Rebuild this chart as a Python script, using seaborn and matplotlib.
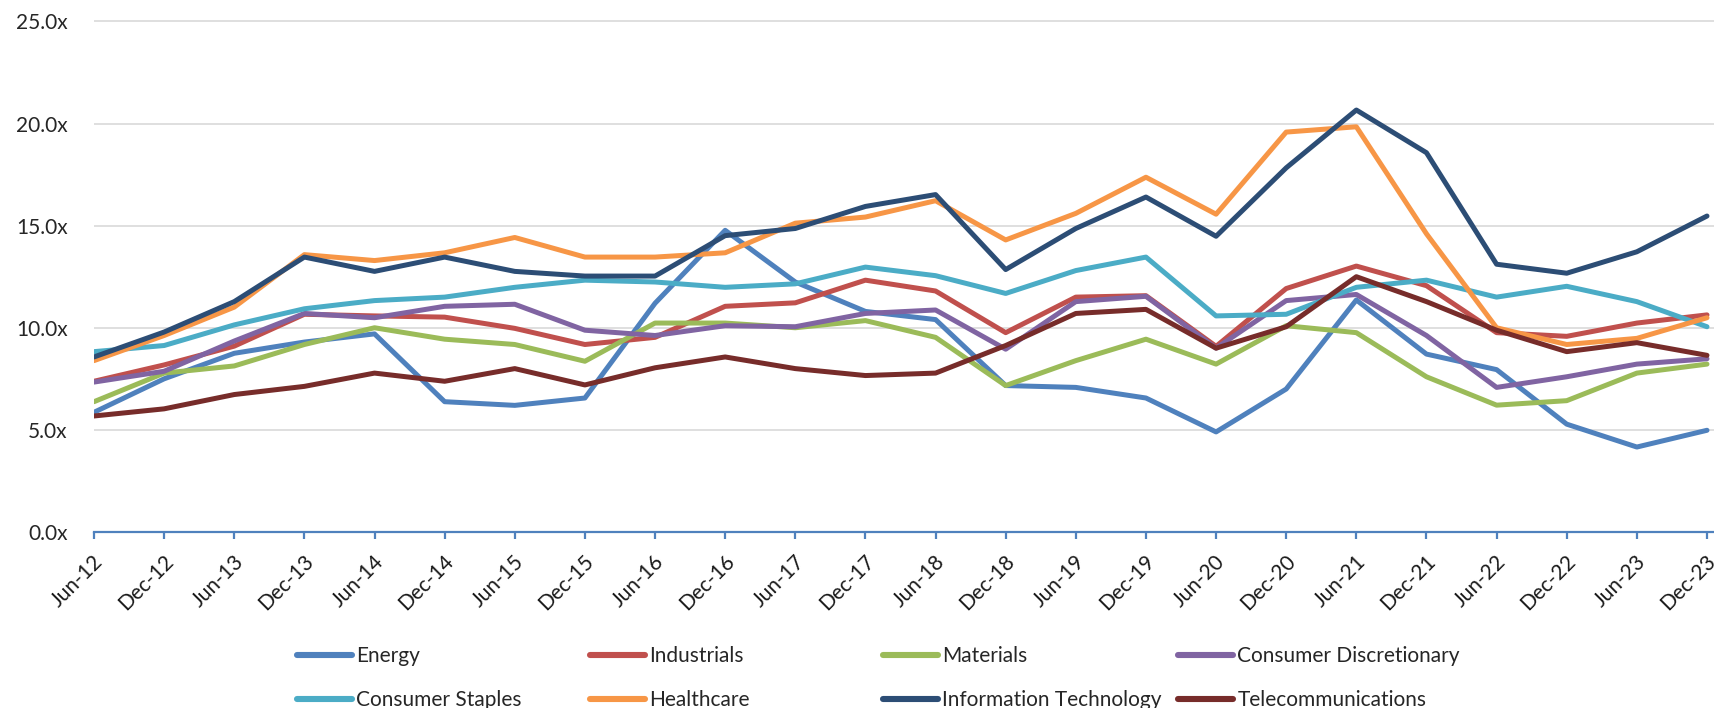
import numpy as np
import pandas as pd
import matplotlib
matplotlib.use("Agg")
import matplotlib.pyplot as plt
import matplotlib.transforms as mtransforms
import seaborn as sns

dates = ["Jun-12", "Dec-12", "Jun-13", "Dec-13", "Jun-14", "Dec-14", "Jun-15", "Dec-15",
         "Jun-16", "Dec-16", "Jun-17", "Dec-17", "Jun-18", "Dec-18", "Jun-19", "Dec-19",
         "Jun-20", "Dec-20", "Jun-21", "Dec-21", "Jun-22", "Dec-22", "Jun-23", "Dec-23"]

energy = [5.86, 7.5, 8.75, 9.3, 9.7, 6.38, 6.2, 6.56, 11.2, 14.77, 12.24, 10.8,
          10.4, 7.17, 7.08, 6.56, 4.9, 7.0, 11.36, 8.71, 7.95, 5.28, 4.16, 4.98]
industrials = [7.38, 8.18, 9.1, 10.66, 10.58, 10.52, 9.97, 9.18, 9.53, 11.05, 11.22, 12.33,
               11.8, 9.76, 11.5, 11.57, 9.09, 11.92, 13.02, 12.06, 9.76, 9.58, 10.23, 10.63]
materials = [6.38, 7.78, 8.13, 9.18, 10.0, 9.44, 9.18, 8.36, 10.23, 10.23, 10.0, 10.35,
             9.53, 7.17, 8.39, 9.44, 8.22, 10.1, 9.76, 7.6, 6.21, 6.43, 7.78, 8.22]
cons_disc = [7.34, 7.87, 9.35, 10.7, 10.49, 11.05, 11.15, 9.88, 9.62, 10.1, 10.05, 10.7,
             10.87, 8.95, 11.28, 11.54, 9.0, 11.33, 11.63, 9.62, 7.08, 7.6, 8.22, 8.48]
cons_staples = [8.83, 9.13, 10.14, 10.93, 11.33, 11.5, 11.98, 12.33, 12.24, 11.98, 12.15, 12.97,
                12.55, 11.68, 12.8, 13.46, 10.58, 10.66, 11.98, 12.33, 11.5, 12.03, 11.28, 10.05]
healthcare = [8.39, 9.62, 11.01, 13.58, 13.29, 13.67, 14.42, 13.46, 13.46, 13.67, 15.12, 15.42,
              16.22, 14.3, 15.6, 17.37, 15.56, 19.58, 19.84, 14.6, 10.0, 9.18, 9.48, 10.49]
info_tech = [8.57, 9.79, 11.28, 13.46, 12.76, 13.46, 12.76, 12.53, 12.53, 14.51, 14.86, 15.94,
             16.52, 12.85, 14.86, 16.4, 14.48, 17.83, 20.66, 18.57, 13.11, 12.67, 13.72, 15.47]
telecom = [5.68, 6.03, 6.73, 7.13, 7.78, 7.38, 8.0, 7.2, 8.04, 8.57, 8.0, 7.66,
           7.78, 9.13, 10.7, 10.9, 9.0, 10.05, 12.5, 11.28, 9.88, 8.83, 9.27, 8.65]

sectors = ["Energy", "Industrials", "Materials", "Consumer Discretionary",
           "Consumer Staples", "Healthcare", "Information Technology", "Telecommunications"]
series = [energy, industrials, materials, cons_disc, cons_staples, healthcare, info_tech, telecom]
colors = ["#4F81BD", "#C0504D", "#9BBB59", "#8064A2", "#4BACC6", "#F79646", "#2C4D75", "#772C2A"]
y_ticks = [0, 5, 10, 15, 20, 25]

df = pd.DataFrame({
    "date": np.tile(dates, len(sectors)),
    "sector": np.repeat(sectors, len(dates)),
    "value": np.concatenate(series),
})

sns.set_style("white")
plt.rcParams["font.family"] = ["Lato", "DejaVu Sans"]

fig = plt.figure(figsize=(17.14, 7.08), dpi=100)
ax = fig.add_axes([94 / 1714, 176 / 708, 1 - 94 / 1714, (532 - 17.3) / 708])

sns.lineplot(data=df, x="date", y="value", hue="sector", hue_order=sectors,
             palette=dict(zip(sectors, colors)), linewidth=3.6, ax=ax, sort=False,
             legend="full")
for ln in ax.get_lines():
    ln.set_solid_capstyle("round")
    ln.set_solid_joinstyle("round")

leg = ax.get_legend()
handles = list(leg.legend_handles)
labels = [t.get_text() for t in leg.get_texts()]
leg.remove()
for h in handles:
    h.set_linewidth(4.4)
    h.set_solid_capstyle("round")

ax.set_xlim(0, 23.1)
ax.set_ylim(0, 25.2)
ax.set_yticks(y_ticks)
ax.set_yticklabels([f"{v:.1f}x" for v in y_ticks])
ax.set_xticks(range(len(dates)))
ax.set_xticklabels(dates, rotation=45, ha="right", va="center", rotation_mode="anchor")
ax.set_xlabel("")
ax.set_ylabel("")

ax.grid(axis="y", color="#D9D9D9", linewidth=1.2)
ax.grid(axis="x", visible=False)
ax.set_axisbelow(True)
for s in ["top", "right", "left"]:
    ax.spines[s].set_visible(False)
ax.spines["bottom"].set_color("#4F81BD")
ax.spines["bottom"].set_linewidth(1.6)
ax.spines["bottom"].set_zorder(1)

ax.tick_params(axis="x", which="both", bottom=True, length=5, width=1.6, color="#4F81BD",
               direction="out", pad=14, labelsize=15, labelcolor="#1a1a1a")
ax.tick_params(axis="y", left=False, length=0, pad=19, labelsize=15, labelcolor="#262626")

shift = mtransforms.ScaledTranslation(6 / 100, 0, fig.dpi_scale_trans)
for lbl in ax.get_xticklabels():
    lbl.set_transform(lbl.get_transform() + shift)

# legend in four equal-width columns as in the reference
col_x = [297, 590, 883, 1178]
for i, x in enumerate(col_x):
    fig.legend([handles[i], handles[i + 4]], [labels[i], labels[i + 4]],
               loc="center left", bbox_to_anchor=(x / 1714, 1 - 678 / 708),
               frameon=False, fontsize=15, handlelength=2.65, handletextpad=0.2,
               labelspacing=1.15, borderpad=0, borderaxespad=0, ncol=1)

fig.savefig("out.png", dpi=100)
